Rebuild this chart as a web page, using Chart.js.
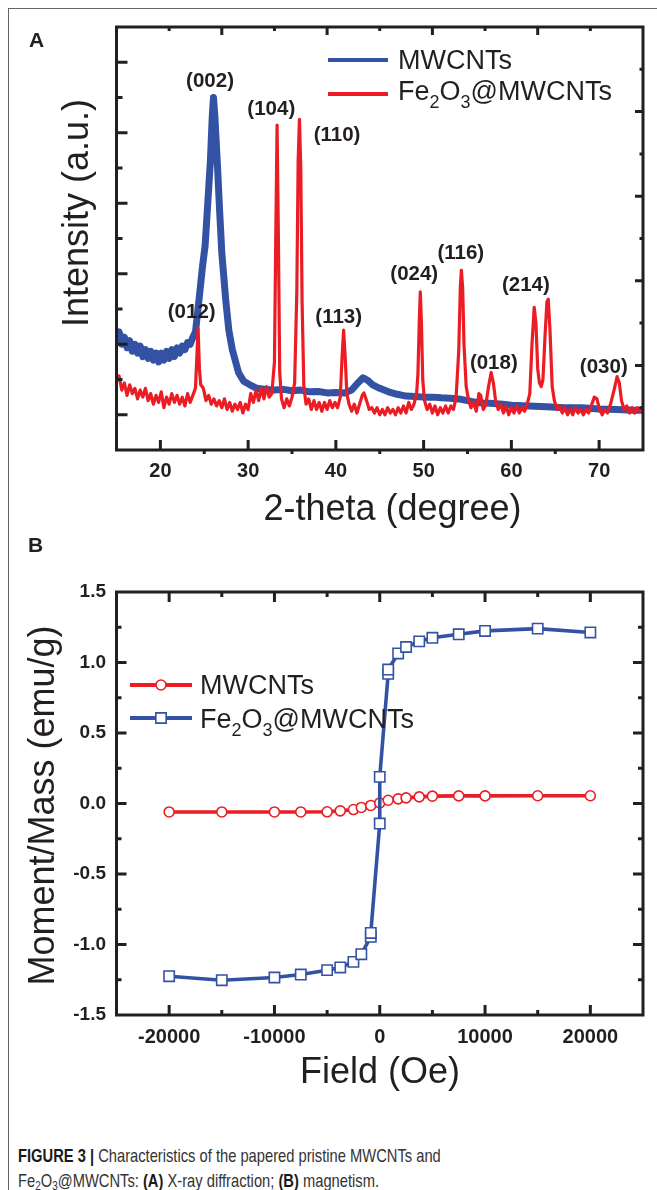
<!DOCTYPE html>
<html>
<head>
<meta charset="utf-8">
<script src="https://cdn.jsdelivr.net/npm/chart.js@4.4.0/dist/chart.umd.min.js"></script>
<style>
html,body{margin:0;padding:0;background:#fff;}
#page{position:relative;width:657px;height:1190px;overflow:hidden;background:#fff;font-family:"Liberation Sans",Arial,Helvetica,sans-serif;}
.fTop{position:absolute;left:8px;top:8px;width:649px;height:0;border-top:1px solid #666;}
.fLeft{position:absolute;left:8px;top:8px;width:0;height:1182px;border-left:1px solid #666;}
.panel{position:absolute;font-weight:bold;font-size:21px;line-height:21px;color:#231f20;}
canvas{position:absolute;left:0;}
#cA{top:0;}
#cB{top:530px;}
#caption{position:absolute;left:18px;top:1143px;font-size:18.4px;line-height:25px;color:#333;transform:scaleX(0.8);transform-origin:0 0;white-space:nowrap;}
#caption b{color:#1a1a1a;}
#caption sub{font-size:12.5px;line-height:0;vertical-align:-3px;}
</style>
</head>
<body>
<div id="page">
  <div class="fTop"></div>
  <div class="fLeft"></div>
  <canvas id="cA" width="657" height="540" style="width:657px;height:540px"></canvas>
  <canvas id="cB" width="657" height="600" style="width:657px;height:600px"></canvas>
  <div class="panel" style="left:29px;top:29px;">A</div>
  <div class="panel" style="left:28px;top:534px;">B</div>
  <div id="caption"><b>FIGURE 3 |</b> Characteristics of the papered pristine MWCNTs and<br>Fe<sub>2</sub>O<sub>3</sub>@MWCNTs: <b>(A)</b> X-ray diffraction; <b>(B)</b> magnetism.</div>
</div>
<script>
// ---------------- DATA: panel A (XRD) ----------------
const xrdTicks = [20, 30, 40, 50, 60, 70];
const xrdMinorTicks = [25, 35, 45, 55, 65];

const mwcntAngle = [
  15.0,15.3,15.6,15.9,16.2,16.5,16.8,17.1,17.4,17.7,
  18.0,18.3,18.6,18.9,19.2,19.5,19.8,20.1,20.4,20.7,
  21.0,21.3,21.6,21.9,22.2,22.5,22.8,23.1,23.4,23.7,
  24.0,24.4,24.8,25.1,25.4,25.7,25.9,26.05,26.2,26.5,
  26.75,27.0,27.45,27.8,28.2,28.9,29.5,30.2,31.0,32.0,
  33.0,34.0,35.0,36.0,37.0,38.0,39.0,40.0,41.0,41.8,
  42.5,43.1,43.6,44.2,45.0,46.0,47.0,48.0,49.0,50.0,
  51.0,52.0,53.0,54.0,55.0,56.0,57.0,58.0,59.0,60.0,
  62.0,64.0,66.0,68.0,70.0,72.0,74.0,75.0];
const mwcntIntensity = [
  3.2,3.35,3.0,3.2,2.9,3.1,2.8,3.0,2.75,2.95,
  2.65,2.85,2.6,2.8,2.55,2.75,2.5,2.75,2.55,2.8,
  2.6,2.85,2.65,2.9,2.75,2.95,2.85,3.05,3.0,3.2,
  3.35,4.25,5.2,5.8,7.0,8.2,9.4,10.0,9.5,8.1,
  6.8,5.6,4.25,3.4,2.85,2.2,1.95,1.85,1.75,1.72,
  1.7,1.72,1.68,1.7,1.65,1.66,1.62,1.63,1.62,1.7,
  1.9,2.05,1.98,1.85,1.75,1.65,1.58,1.53,1.52,1.5,
  1.5,1.48,1.47,1.45,1.4,1.35,1.33,1.32,1.3,1.27,
  1.25,1.23,1.2,1.2,1.16,1.15,1.13,1.13];

const feAngle = [
  15.0,15.3,15.6,15.9,16.2,16.5,16.8,17.1,17.4,17.7,
  18.0,18.3,18.6,18.9,19.2,19.5,19.8,20.1,20.4,20.7,
  21.0,21.3,21.6,21.9,22.2,22.5,22.8,23.1,23.4,23.7,
  24.0,24.15,24.3,24.45,24.6,24.9,25.2,25.5,25.8,26.1,
  26.4,26.7,27.0,27.3,27.6,27.9,28.2,28.5,28.8,29.1,
  29.4,29.7,30.0,30.3,30.6,30.9,31.2,31.5,31.8,32.1,
  32.4,32.7,33.0,33.15,33.3,33.45,33.6,33.8,34.1,34.4,
  34.7,35.0,35.3,35.55,35.7,35.85,36.0,36.15,36.35,36.6,
  36.9,37.2,37.5,37.8,38.1,38.4,38.7,39.0,39.3,39.6,
  39.9,40.2,40.5,40.7,40.88,41.05,41.25,41.5,41.8,42.1,
  42.4,42.7,43.0,43.2,43.5,43.8,44.1,44.4,44.7,45.0,
  45.3,45.6,45.9,46.2,46.5,46.8,47.1,47.4,47.7,48.0,
  48.3,48.6,48.9,49.2,49.35,49.5,49.62,49.75,49.9,50.1,
  50.4,50.7,51.0,51.3,51.6,51.9,52.2,52.5,52.8,53.1,
  53.4,53.7,54.0,54.18,54.3,54.45,54.6,54.85,55.1,55.4,
  55.7,56.0,56.3,56.5,56.8,57.1,57.4,57.7,57.95,58.2,
  58.5,58.8,59.1,59.4,59.7,60.0,60.3,60.6,60.9,61.2,
  61.5,61.8,62.1,62.35,62.6,62.8,63.0,63.2,63.4,63.6,
  63.85,64.05,64.2,64.4,64.65,64.9,65.2,65.5,65.8,66.1,
  66.4,66.7,67.0,67.3,67.6,67.9,68.2,68.5,68.8,69.1,
  69.45,69.75,70.05,70.35,70.65,70.95,71.3,71.7,72.05,72.3,
  72.55,72.85,73.15,73.45,73.75,74.05,74.35,74.65,75.0];
const feIntensity = [
  1.95,2.1,1.7,1.9,1.55,1.85,1.6,1.75,1.45,1.7,
  1.5,1.75,1.4,1.6,1.3,1.55,1.35,1.65,1.2,1.5,
  1.3,1.6,1.35,1.55,1.3,1.5,1.25,1.6,1.35,1.55,
  1.75,2.6,3.45,2.3,1.85,1.75,1.4,1.55,1.3,1.45,
  1.25,1.4,1.2,1.45,1.15,1.35,1.1,1.3,1.15,1.35,
  1.05,1.3,1.15,1.6,1.35,1.7,1.4,1.75,1.45,1.8,
  1.5,1.6,2.5,6.0,9.22,6.0,2.2,1.45,1.2,1.45,
  1.25,1.5,1.9,4.5,8.2,9.38,8.0,4.2,1.8,1.3,
  1.45,1.15,1.4,1.15,1.35,1.1,1.35,1.15,1.4,1.2,
  1.35,1.2,1.5,2.6,3.4,2.7,1.6,1.3,1.1,1.3,
  1.05,1.3,1.55,1.62,1.4,1.15,1.2,1.05,1.2,1.0,
  1.15,1.0,1.2,1.05,1.15,1.0,1.2,1.05,1.25,1.05,
  1.35,1.15,1.3,1.6,2.15,3.6,4.49,3.6,2.0,1.4,
  1.15,1.3,1.05,1.25,1.0,1.2,1.05,1.25,1.05,1.25,
  1.15,1.5,2.8,4.6,5.1,4.6,3.0,1.8,1.45,1.2,
  1.35,1.1,1.6,1.55,1.15,1.3,1.8,2.2,1.9,1.4,
  1.15,1.3,1.05,1.25,1.0,1.2,1.05,1.25,1.05,1.2,
  1.1,1.3,1.6,3.0,4.05,3.6,2.3,1.9,1.8,2.0,
  3.3,4.2,4.28,3.4,1.8,1.4,1.15,1.25,1.05,1.2,
  1.0,1.15,1.0,1.2,1.05,1.15,1.0,1.15,1.05,1.25,
  1.5,1.45,1.15,1.0,1.15,1.05,1.3,1.7,2.08,1.9,
  1.4,1.15,1.25,1.05,1.2,1.05,1.2,1.1,1.15];

const peakLabels = ['(002)','(104)','(110)','(012)','(113)','(024)','(116)','(214)','(018)','(030)'];
const peakLabelAngle = [25.66, 32.64, 40.13, 23.57, 40.32, 48.93, 54.24, 61.65, 58.0, 70.53];
const peakLabelLevel = [10.45, 9.67, 8.92, 3.90, 3.76, 4.97, 5.58, 4.66, 2.46, 2.34];

// ---------------- DATA: panel B (magnetism) ----------------
const fieldTicks = [-20000, -10000, 0, 10000, 20000];
const fieldMinorTicks = [-15000, -5000, 5000, 15000];
const momentTicks = [-1.5, -1.0, -0.5, 0.0, 0.5, 1.0, 1.5];
const momentMinorTicks = [-1.25, -0.75, -0.25, 0.25, 0.75, 1.25];

const mwcntField = [-20000,-15000,-10000,-7500,-5000,-3750,-2500,-1750,-850,0,800,1750,2500,3750,5000,7500,10000,15000,20000];
const mwcntMoment = [-0.06,-0.06,-0.06,-0.06,-0.059,-0.052,-0.043,-0.028,-0.014,0.004,0.023,0.033,0.04,0.047,0.052,0.054,0.054,0.055,0.055];

const feField = [-20000,-15000,-10000,-7500,-5000,-3750,-2500,-1750,-850,-850,0,0,800,800,1750,2500,3750,5000,7500,10000,15000,20000];
const feMoment = [-1.225,-1.253,-1.234,-1.213,-1.182,-1.163,-1.123,-1.069,-0.946,-0.918,-0.142,0.189,0.92,0.95,1.064,1.11,1.15,1.175,1.2,1.224,1.24,1.213];

// ---------------- styling ----------------
const FONT = '"Liberation Sans", Arial, Helvetica, sans-serif';
const INK = '#231f20';
const RED = '#ec1c24';
const BLUE = '#3352a3';

function pts(xs, ys) { return xs.map((x, i) => ({ x: x, y: ys[i] })); }

function richParts(s) {
  const out = [];
  for (let i = 0; i < s.length; i++) {
    const c = s[i];
    const sub = /\d/.test(c) && i > 0 && /[A-Za-z\d]/.test(s[i - 1]);
    const last = out[out.length - 1];
    if (last && last.sub === sub) last.t += c; else out.push({ t: c, sub: sub });
  }
  return out;
}
function drawRich(ctx, text, x, y, size) {
  let cx = x;
  richParts(text).forEach(p => {
    const s = p.sub ? size * 0.667 : size;
    ctx.font = s + 'px ' + FONT;
    ctx.fillText(p.t, cx, p.sub ? y + size * 0.3 : y);
    cx += ctx.measureText(p.t).width;
  });
}

const decorPlugin = {
  id: 'decor',
  afterDatasetsDraw(chart, args, o) {
    const ctx = chart.ctx, a = chart.chartArea;
    const xs = chart.scales.x, ys = chart.scales.y;
    ctx.save();
    ctx.strokeStyle = INK; ctx.lineWidth = 3; ctx.lineCap = 'butt';
    const px = t => t.v !== undefined ? xs.getPixelForValue(t.v) : a.left + t.f * (a.right - a.left);
    const py = t => t.v !== undefined ? ys.getPixelForValue(t.v) : a.bottom - t.f * (a.bottom - a.top);
    ctx.beginPath();
    (o.ticks.bottom || []).forEach(t => { const x = px(t); ctx.moveTo(x, a.bottom); ctx.lineTo(x, a.bottom - t.len); });
    (o.ticks.top || []).forEach(t => { const x = px(t); ctx.moveTo(x, a.top); ctx.lineTo(x, a.top + t.len); });
    (o.ticks.left || []).forEach(t => { const y = py(t); ctx.moveTo(a.left, y); ctx.lineTo(a.left + t.len, y); });
    (o.ticks.right || []).forEach(t => { const y = py(t); ctx.moveTo(a.right, y); ctx.lineTo(a.right - t.len, y); });
    ctx.stroke();
    ctx.lineJoin = 'miter';
    ctx.strokeRect(a.left, a.top, a.right - a.left, a.bottom - a.top);

    ctx.fillStyle = INK;
    if (o.peaks) {
      ctx.font = 'bold ' + o.peaks.size + 'px ' + FONT;
      ctx.textAlign = 'center'; ctx.textBaseline = 'middle';
      o.peaks.text.forEach((t, i) => ctx.fillText(t, xs.getPixelForValue(o.peaks.x[i]), ys.getPixelForValue(o.peaks.y[i])));
    }
    ctx.textAlign = 'center'; ctx.textBaseline = 'alphabetic';
    o.titles.forEach(t => {
      ctx.font = t.size + 'px ' + FONT;
      ctx.save(); ctx.translate(t.x, t.y);
      if (t.rot) ctx.rotate(-Math.PI / 2);
      ctx.fillText(t.text, 0, 0);
      ctx.restore();
    });
    const L = o.legend;
    ctx.textAlign = 'left';
    L.items.forEach(it => {
      const ds = chart.data.datasets[it.ds];
      ctx.strokeStyle = ds.borderColor; ctx.lineWidth = L.lineWidth;
      ctx.beginPath(); ctx.moveTo(L.x1, it.y); ctx.lineTo(L.x2, it.y); ctx.stroke();
      if (ds.pointRadius > 0) {
        const mx = (L.x1 + L.x2) / 2;
        ctx.fillStyle = '#fff'; ctx.lineWidth = ds.pointBorderWidth;
        ctx.beginPath();
        if (ds.pointStyle === 'rect') {
          const h = ds.pointRadius * Math.SQRT1_2;
          ctx.rect(mx - h, it.y - h, 2 * h, 2 * h);
        } else {
          ctx.arc(mx, it.y, ds.pointRadius, 0, Math.PI * 2);
        }
        ctx.fill(); ctx.stroke();
      }
      ctx.fillStyle = INK;
      drawRich(ctx, ds.label, L.textX, it.base, L.size);
    });
    ctx.restore();
  }
};

function fixTicks(list) { return function (s) { s.ticks = list.map(v => ({ value: v })); }; }

// ---------------- Chart A ----------------
const topTicksA = [1,2,3,4,5,6,7,8,9].map(k => ({ f: k / 10, len: k % 2 === 0 ? 8 : 4 }));
const rightTicksA = [1,2,3,4,5,6,7,8,9].map(k => ({ f: k / 10, len: k % 2 === 0 ? 8 : 3.5 }));
const leftTicksA = [1,2,3,4,5,6,7,8,9,10,11].map(k => ({ v: k, len: k % 2 === 1 ? 11 : 6 }));
const bottomTicksA = xrdTicks.map(v => ({ v: v, len: 10 })).concat(xrdMinorTicks.map(v => ({ v: v, len: -4 })));

new Chart(document.getElementById('cA'), {
  type: 'line',
  data: {
    datasets: [
      { label: 'Fe2O3@MWCNTs', data: pts(feAngle, feIntensity), borderColor: RED, borderWidth: 3.2, pointRadius: 0, tension: 0, borderJoinStyle: 'round', order: 0 },
      { label: 'MWCNTs', data: pts(mwcntAngle, mwcntIntensity), borderColor: BLUE, borderWidth: 7, pointRadius: 0, tension: 0, borderJoinStyle: 'round', order: 1 }
    ]
  },
  options: {
    responsive: false, animation: false, devicePixelRatio: 1,
    layout: { padding: { top: 27, right: 14, left: 0, bottom: 0 } },
    plugins: {
      legend: { display: false }, tooltip: { enabled: false },
      decor: {
        ticks: { bottom: bottomTicksA, top: topTicksA, left: leftTicksA, right: rightTicksA },
        peaks: { text: peakLabels, x: peakLabelAngle, y: peakLabelLevel, size: 20.5 },
        titles: [
          { text: '2-theta (degree)', x: 392.5, y: 520, size: 36 },
          { text: 'Intensity (a.u.)', x: 88, y: 213, size: 36, rot: true }
        ],
        legend: { x1: 328, x2: 388, textX: 398, size: 27, lineWidth: 4,
          items: [ { ds: 1, y: 60, base: 68.5 }, { ds: 0, y: 94, base: 100 } ] }
      }
    },
    scales: {
      x: {
        type: 'linear', min: 15, max: 75,
        afterBuildTicks: fixTicks(xrdTicks),
        afterFit: s => { s.height = 90; },
        grid: { display: false, drawTicks: false }, border: { display: false },
        ticks: { autoSkip: false, maxRotation: 0, minRotation: 0, padding: 9, color: INK, font: { family: FONT, size: 20, weight: 'bold' } }
      },
      y: {
        type: 'linear', min: 0, max: 12,
        afterFit: s => { s.width = 116.5; },
        grid: { display: false, drawTicks: false }, border: { display: false },
        ticks: { display: false }
      }
    }
  },
  plugins: [decorPlugin]
});

// ---------------- Chart B ----------------
const bottomTicksB = fieldTicks.map(v => ({ v: v, len: 10 })).concat(fieldMinorTicks.map(v => ({ v: v, len: 5 })));
const sideTicksB = momentTicks.slice(1, -1).map(v => ({ v: v, len: 10 })).concat(momentMinorTicks.map(v => ({ v: v, len: 5 })));

new Chart(document.getElementById('cB'), {
  type: 'line',
  data: {
    datasets: [
      { label: 'MWCNTs', data: pts(mwcntField, mwcntMoment), borderColor: RED, borderWidth: 3.6, tension: 0,
        pointStyle: 'circle', pointRadius: 5, pointBorderWidth: 1.6, pointBackgroundColor: '#fff', pointBorderColor: RED, order: 1 },
      { label: 'Fe2O3@MWCNTs', data: pts(feField, feMoment), borderColor: BLUE, borderWidth: 3.6, tension: 0,
        pointStyle: 'rect', pointRadius: 7.3, pointBorderWidth: 1.6, pointBackgroundColor: '#fff', pointBorderColor: BLUE, order: 0 }
    ]
  },
  options: {
    responsive: false, animation: false, devicePixelRatio: 1,
    layout: { padding: { top: 62, right: 14, left: 0, bottom: 0 } },
    plugins: {
      legend: { display: false }, tooltip: { enabled: false },
      decor: {
        ticks: { bottom: bottomTicksB, top: bottomTicksB, left: sideTicksB, right: sideTicksB },
        titles: [
          { text: 'Field (Oe)', x: 380, y: 553, size: 36 },
          { text: 'Moment/Mass (emu/g)', x: 53.5, y: 275.5, size: 36, rot: true }
        ],
        legend: { x1: 130, x2: 192, textX: 200, size: 27, lineWidth: 4,
          items: [ { ds: 0, y: 155, base: 164 }, { ds: 1, y: 188, base: 197.5 } ] }
      }
    },
    scales: {
      x: {
        type: 'linear', min: -25000, max: 25000,
        afterBuildTicks: fixTicks(fieldTicks),
        afterFit: s => { s.height = 115; },
        grid: { display: false, drawTicks: false }, border: { display: false },
        ticks: { autoSkip: false, maxRotation: 0, minRotation: 0, padding: 10, color: INK,
          font: { family: FONT, size: 20, weight: 'bold' }, callback: v => String(v) }
      },
      y: {
        type: 'linear', min: -1.5, max: 1.5,
        afterBuildTicks: fixTicks(momentTicks),
        afterFit: s => { s.width = 116.5; },
        grid: { display: false, drawTicks: false }, border: { display: false },
        ticks: { autoSkip: false, padding: 10.5, color: INK, font: { family: FONT, size: 19, weight: 'bold' },
          callback: v => Number(v).toFixed(1) }
      }
    }
  },
  plugins: [decorPlugin]
});
</script>
</body>
</html>
